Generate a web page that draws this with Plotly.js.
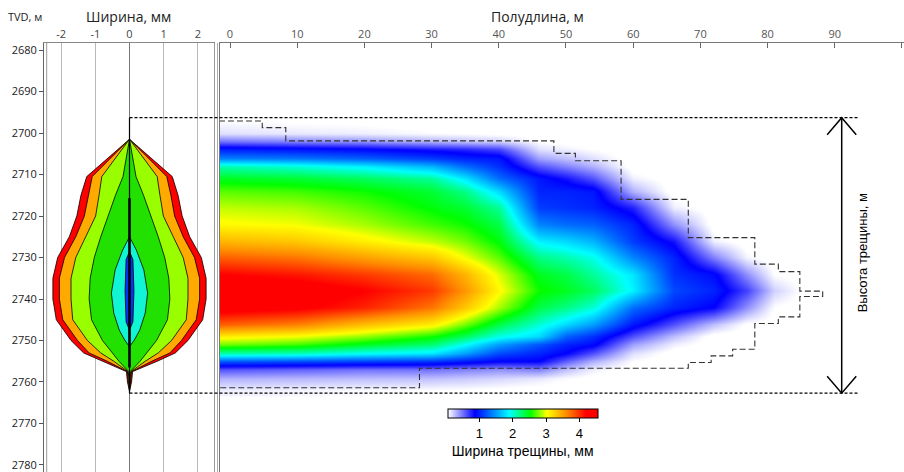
<!DOCTYPE html>
<html><head><meta charset="utf-8">
<script src="https://cdn.plot.ly/plotly-3.0.1.min.js"></script>
<style>html,body{margin:0;padding:0;background:#fff}#chart{width:904px;height:472px}</style>
</head><body><div id="chart"></div>
<script>
// ---------- Left panel: width profile bands (half-width, mm) ----------
const profileDepth = [2701.5, 2710.5, 2715, 2720, 2725, 2730, 2735, 2740, 2745, 2750, 2753, 2755, 2757.5, 2760, 2762.2];
const bandRed      = [0, 1.25, 1.42, 1.54, 1.76, 2.10, 2.24, 2.24, 2.14, 1.71, 1.34, 0.81, 0.09, 0.06, 0];
const bandOrange   = [0, 1.09, 1.21, 1.32, 1.57, 1.90, 2.05, 2.05, 1.95, 1.52, 1.18, 0.65, 0.06, 0.03, 0];
const bandLime     = [0, 0.81, 0.89, 0.99, 1.28, 1.57, 1.71, 1.71, 1.66, 1.23, 0.84, 0.46, 0.04, 0, 0];
const bandGreen    = [0, 0.19, 0.41, 0.63, 0.84, 1.03, 1.15, 1.18, 1.11, 0.79, 0.50, 0.31, 0.02, 0, 0];
const cyanDepth    = [2725, 2728.2, 2733, 2738.6, 2743.4, 2747.5, 2749.9, 2751.5];
const bandCyan     = [0, 0.20, 0.42, 0.53, 0.46, 0.30, 0.14, 0];
const blueDepth    = [2728.6, 2730.5, 2738, 2745.5, 2747.5];
const bandBlue     = [0, 0.10, 0.13, 0.10, 0];
const fracTop = 2696.3, fracBottom = 2762.7;
const wellThick = [2715.7, 2756.5];

// ---------- Right panel: width field (mm) by half-length (m) and TVD (m) ----------
const halfLength = [-2, 10, 20, 30, 35, 40, 46, 50, 54, 60, 66, 72, 77, 81, 86];
const tvd = [2697, 2700, 2702, 2704, 2706, 2708, 2711, 2714, 2718, 2722, 2726, 2730, 2734, 2738, 2742, 2746, 2749, 2751, 2753, 2755, 2757, 2759, 2762];
const widthAtM2 = [0.05,0.15,0.5,1.0,1.4,2.1,2.45,2.7,2.9,3.05,3.4,3.8,4.2,4.45,4.35,3.8,3.1,2.75,2.1,1.2,0.6,0.3,0.1];
const widthAt10 = [0.03,0.12,0.45,0.95,1.35,2.0,2.4,2.65,2.85,3.0,3.3,3.7,4.1,4.35,4.25,3.65,3.0,2.65,2.05,1.15,0.55,0.28,0.08];
const widthAt20 = [0.02,0.1,0.4,0.9,1.25,1.85,2.3,2.55,2.7,2.85,3.1,3.5,3.95,4.2,4.05,3.35,2.8,2.45,1.9,1.1,0.5,0.26,0.06];
const widthAt30 = [0,0.06,0.3,0.8,1.1,1.6,2.15,2.4,2.5,2.65,2.9,3.3,3.75,3.95,3.7,3.1,2.55,2.25,1.8,1.05,0.5,0.25,0.05];
const widthAt35 = [0,0.05,0.25,0.75,1.0,1.3,1.8,2.2,2.4,2.55,2.75,3.0,3.4,3.55,3.3,2.75,2.3,1.9,1.5,0.95,0.45,0.22,0.04];
const widthAt40 = [0,0.03,0.2,0.65,0.95,1.05,1.3,1.75,2.15,2.35,2.5,2.7,2.95,3.05,2.85,2.35,1.95,1.5,1.15,0.85,0.4,0.18,0.02];
const widthAt46 = [0,0,0.05,0.15,0.35,0.6,0.95,1.0,1.1,1.4,1.85,2.2,2.45,2.55,2.35,2.0,1.75,1.2,1.0,0.85,0.45,0.12,0];
const widthAt50 = [0,0,0.02,0.1,0.25,0.45,0.8,1.0,1.05,1.3,1.75,2.1,2.35,2.45,2.2,1.75,1.25,1.0,0.85,0.55,0.25,0.06,0];
const widthAt54 = [0,0,0,0.05,0.15,0.3,0.6,0.95,1.0,1.25,1.6,1.95,2.15,2.3,2.0,1.5,1.05,0.9,0.6,0.3,0.1,0.02,0];
const widthAt60 = [0,0,0,0,0,0,0.1,0.3,0.75,1.0,1.1,1.4,1.8,1.85,1.3,0.95,0.6,0.35,0.15,0.05,0,0,0];
const widthAt66 = [0,0,0,0,0,0,0,0,0.1,0.4,0.8,1.0,1.05,1.15,1.0,0.6,0.25,0.1,0,0,0,0,0];
const widthAt72 = [0,0,0,0,0,0,0,0,0,0,0.1,0.45,0.9,1.0,0.85,0.25,0,0,0,0,0,0,0];
const widthAt77 = [0,0,0,0,0,0,0,0,0,0,0,0.08,0.4,0.65,0.4,0.03,0,0,0,0,0,0,0];
const widthAt81 = [0,0,0,0,0,0,0,0,0,0,0,0,0.05,0.2,0.05,0,0,0,0,0,0,0,0];
const widthAt86 = [0,0,0,0,0,0,0,0,0,0,0,0,0,0,0,0,0,0,0,0,0,0,0];

// fracture extent outline (step line)
const outlineX = [-1.64, 4.8, 8.3, 48.2, 51.4, 58.2, 68.2, 78.1, 81.6, 84.8, 88.2, 84.8, 81.6, 78.1, 74.8, 71.6, 68.2, 28.2, -1.64];
const outlineY = [2697.1, 2698.7, 2701.9, 2704.9, 2706.7, 2716.0, 2725.2, 2731.6, 2733.4, 2738.1, 2739.4, 2744.3, 2745.9, 2752.1, 2753.7, 2755.3, 2756.7, 2761.4, 2761.4];

const xTicksLeft = [-2, -1, 0, 1, 2];
const xTickTextLeft = ['-2', '-1', '0', '1', '2'];
const xTicksRight = [0, 10, 20, 30, 40, 50, 60, 70, 80, 90, 100];
const yTicks = [2680, 2690, 2700, 2710, 2720, 2730, 2740, 2750, 2760, 2770, 2780];
const cbTicks = [1, 2, 3, 4];

// ---------- build ----------
function band(depth, w, color) {
  const xs = w.concat(w.slice().reverse().map(v => -v));
  const ys = depth.concat(depth.slice().reverse());
  return {type:'scatter', mode:'lines', x:xs, y:ys, xaxis:'x', yaxis:'y', fill:'toself', fillcolor:color,
          line:{color:'#000', width:0.8}, hoverinfo:'skip'};
}
const columns = [widthAtM2, widthAt10, widthAt20, widthAt30, widthAt35, widthAt40, widthAt46, widthAt50, widthAt54, widthAt60, widthAt66, widthAt72, widthAt77, widthAt81, widthAt86];
const z = tvd.map((_, i) => columns.map(c => c[i]));

const traces = [
  band(profileDepth, bandRed, '#ff0000'),
  band(profileDepth, bandOrange, '#ffaa00'),
  band(profileDepth, bandLime, '#99ff00'),
  band(profileDepth, bandGreen, '#22e000'),
  band(cyanDepth, bandCyan, '#11f5d5'),
  band(blueDepth, bandBlue, '#0033ff'),
  {type:'scatter', mode:'lines', x:[0,0], y:[fracTop, fracBottom], xaxis:'x', yaxis:'y', line:{color:'#000', width:1.2}, hoverinfo:'skip'},
  {type:'scatter', mode:'lines', x:[0,0], y:wellThick, xaxis:'x', yaxis:'y', line:{color:'#000', width:2.6}, hoverinfo:'skip'},
  {type:'heatmap', x:halfLength, y:tvd, z:z, xaxis:'x2', yaxis:'y', zsmooth:'best', zmin:0.05, zmax:4.55,
   colorscale:[[0,'#ffffff'],[0.18,'#0000ff'],[0.41,'#00ffff'],[0.55,'#00ff00'],[0.66,'#ffff00'],[0.79,'#ff8c00'],[0.92,'#ff0000'],[1,'#ff0000']],
   hoverinfo:'skip',
   colorbar:{orientation:'h', x:0.5566, xanchor:'center', y:0.1462, yanchor:'top', len:150, lenmode:'pixels',
     thickness:9, thicknessmode:'pixels', outlinecolor:'#000', outlinewidth:1, xpad:0, ypad:0,
     ticks:'outside', ticklen:4, tickcolor:'#000', tickvals:cbTicks,
     tickfont:{family:'Liberation Sans, Arial', size:13, color:'#000'},
     title:{text:'Ширина трещины, мм', side:'bottom', font:{family:'Liberation Sans, Arial', size:14, color:'#000'}}}},
  {type:'scatter', mode:'lines', x:outlineX, y:outlineY, xaxis:'x2', yaxis:'y', line:{shape:'hv', color:'#333', width:1.1, dash:'6px,3px'}, hoverinfo:'skip'}
];

const px = p => (p - 44) / 860;
const vline = (p, color, w) => ({type:'line', xref:'paper', yref:'paper', x0:px(p), x1:px(p), y0:0, y1:1, line:{color:color, width:w}});
const ahx = 0.0169, ahy = 4.1, ax = px(841.7);
const layout = {
  width:904, height:472,
  margin:{l:44, r:0, t:43, b:0, pad:0},
  paper_bgcolor:'#fff', plot_bgcolor:'#fff', showlegend:false,
  font:{family:'Open Sans, sans-serif'},
  xaxis:{domain:[0, px(215)], range:[-2.5, 2.5], side:'top', anchor:'y', showline:true, linecolor:'#888', linewidth:1,
    tickvals:xTicksLeft, ticktext:xTickTextLeft, ticks:'', showgrid:true, gridcolor:'#b8b8b8', gridwidth:1,
    zeroline:true, zerolinecolor:'#777', zerolinewidth:1, tickfont:{size:11, color:'#444'}, fixedrange:true},
  xaxis2:{domain:[px(219), 1], range:[-1.637, 100.3], side:'top', anchor:'y', showline:true, linecolor:'#777', linewidth:1,
    ticks:'inside', ticklen:5, tickcolor:'#666', tickvals:xTicksRight, showgrid:false, zeroline:false,
    tickfont:{size:11, color:'#555'}, fixedrange:true},
  yaxis:{domain:[0,1], range:[2781.69, 2678.31], ticks:'outside', ticklen:4, tickcolor:'#555', showline:true, linecolor:'#666',
    tickvals:yTicks, showgrid:false, zeroline:false, tickfont:{size:11, color:'#222'}, fixedrange:true},
  shapes:[
    vline(46.7, '#999', 1), vline(214.5, '#999', 1), vline(217.5, '#aaa', 1), vline(219.5, '#777', 1),
    {type:'line', xref:'paper', yref:'y', x0:px(129.5), x1:px(858), y0:fracTop, y1:fracTop, line:{color:'#000', width:1.3, dash:'3px,2px'}},
    {type:'line', xref:'paper', yref:'y', x0:px(129.5), x1:px(858), y0:fracBottom, y1:fracBottom, line:{color:'#000', width:1.3, dash:'3px,2px'}},
    {type:'line', xref:'paper', yref:'y', x0:ax, x1:ax, y0:fracTop, y1:fracBottom, line:{color:'#000', width:1.5}},
    {type:'path', xref:'paper', yref:'y', path:`M ${ax-ahx},${fracTop+ahy} L ${ax},${fracTop} L ${ax+ahx},${fracTop+ahy}`, line:{color:'#000', width:1.5}},
    {type:'path', xref:'paper', yref:'y', path:`M ${ax-ahx},${fracBottom-ahy} L ${ax},${fracBottom} L ${ax+ahx},${fracBottom-ahy}`, line:{color:'#000', width:1.5}}
  ],
  annotations:[
    {text:'TVD, м', xref:'paper', yref:'paper', x:px(25), y:1+(43-16)/429, xanchor:'center', yanchor:'middle', showarrow:false, font:{size:11, color:'#222'}},
    {text:'Ширина, мм', xref:'paper', yref:'paper', x:px(128), y:1+(43-16)/429, xanchor:'center', yanchor:'middle', showarrow:false, font:{size:14, color:'#222'}},
    {text:'Полудлина, м', xref:'paper', yref:'paper', x:px(537), y:1+(43-16)/429, xanchor:'center', yanchor:'middle', showarrow:false, font:{size:14, color:'#222'}},
    {text:'Высота трещины, м', xref:'paper', yref:'y', x:px(862), y:2729, textangle:-90, xanchor:'center', yanchor:'middle', showarrow:false, font:{family:'Liberation Sans, Arial', size:13, color:'#000'}}
  ]
};
Plotly.newPlot('chart', traces, layout, {displayModeBar:false, staticPlot:true});
</script></body></html>
